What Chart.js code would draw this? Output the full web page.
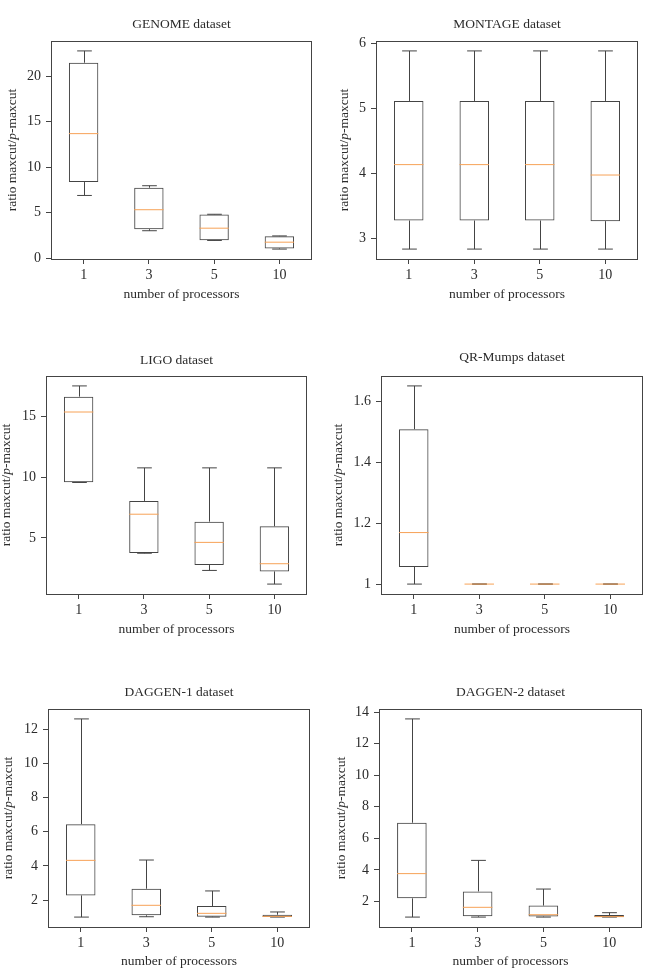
<!DOCTYPE html>
<html>
<head>
<meta charset="utf-8">
<title>maxcut / p-maxcut box plots</title>
<script src="https://cdn.jsdelivr.net/npm/chart.js@4.4.0/dist/chart.umd.min.js"></script>
<style>
    html, body { margin: 0; padding: 0; background: #fff; }
    body { position: relative; width: 649px; height: 974px; overflow: hidden; }
    canvas { position: absolute; display: block; }
</style>
</head>
<body>
<canvas id="genome"></canvas>
<canvas id="montage"></canvas>
<canvas id="ligo"></canvas>
<canvas id="qrmumps"></canvas>
<canvas id="daggen1"></canvas>
<canvas id="daggen2"></canvas>

<script>
// ---- data ----
const processors = ['1', '3', '5', '10'];

// GENOME
const genomeLow  = [6.9, 3.02, 1.95, 1.0];
const genomeQ1   = [8.37, 3.19, 1.98, 1.07];
const genomeMed  = [13.7, 5.33, 3.30, 1.76];
const genomeQ3   = [21.5, 7.75, 4.81, 2.42];
const genomeHigh = [22.8, 7.97, 4.83, 2.45];
const genomeTicks = [0, 5, 10, 15, 20];

// MONTAGE
const montageLow  = [2.83, 2.83, 2.83, 2.83];
const montageQ1   = [3.27, 3.27, 3.27, 3.26];
const montageMed  = [4.13, 4.13, 4.13, 3.97];
const montageQ3   = [5.11, 5.11, 5.11, 5.11];
const montageHigh = [5.88, 5.88, 5.88, 5.88];
const montageTicks = [3, 4, 5, 6];

// LIGO
const ligoLow  = [9.55, 3.75, 2.34, 1.22];
const ligoQ1   = [9.58, 3.77, 2.78, 2.26];
const ligoMed  = [15.33, 6.95, 4.64, 2.89];
const ligoQ3   = [16.59, 8.04, 6.34, 5.96];
const ligoHigh = [17.47, 10.75, 10.75, 10.75];
const ligoTicks = [5, 10, 15];

// QR-Mumps
const qrLow  = [1.0, 1.0, 1.0, 1.0];
const qrQ1   = [1.056, 1.0, 1.0, 1.0];
const qrMed  = [1.169, 1.0, 1.0, 1.0];
const qrQ3   = [1.508, 1.0, 1.0, 1.0];
const qrHigh = [1.65, 1.0, 1.0, 1.0];
const qrTicks = [1, 1.2, 1.4, 1.6];

// DAGGEN-1
const dag1Low  = [1.0, 1.02, 1.0, 1.0];
const dag1Q1   = [2.27, 1.105, 1.02, 1.0];
const dag1Med  = [4.32, 1.69, 1.22, 1.04];
const dag1Q3   = [6.44, 2.66, 1.65, 1.14];
const dag1High = [12.6, 4.34, 2.53, 1.30];
const dag1Ticks = [2, 4, 6, 8, 10, 12];

// DAGGEN-2
const dag2Low  = [1.0, 1.0, 1.0, 1.0];
const dag2Q1   = [2.19, 1.05, 1.03, 1.0];
const dag2Med  = [3.76, 1.62, 1.15, 1.03];
const dag2Q3   = [6.99, 2.63, 1.73, 1.13];
const dag2High = [13.58, 4.60, 2.78, 1.28];
const dag2Ticks = [2, 4, 6, 8, 10, 12, 14];

// ---- look ----
const SERIF = '"Liberation Serif", "DejaVu Serif", serif';
const LABEL_SIZE = 13.5;
const TICK_SIZE = 14;
const LINE_H = LABEL_SIZE * 1.2;
const TEXT_COLOR = '#2b2b2b';
const LINE_COLOR = '#444444';
const MEDIAN_COLOR = '#f7a257';
const TICK_LEN = 5;

// canvas box and target plot area (page pixels) for every panel
const PANELS = [
    { id: 'genome',  title: 'GENOME dataset',    x: 0,   y: 0,   w: 325, h: 310, area: [51, 41, 312, 259],  titleY: 24.3,  yTitleX: 12,    xTitleY: 294,
      low: genomeLow, q1: genomeQ1, med: genomeMed, q3: genomeQ3, high: genomeHigh, ticks: genomeTicks },
    { id: 'montage', title: 'MONTAGE dataset',   x: 325, y: 0,   w: 324, h: 310, area: [376, 41, 638, 259], titleY: 24.3,  yTitleX: 344.3, xTitleY: 294,
      low: montageLow, q1: montageQ1, med: montageMed, q3: montageQ3, high: montageHigh, ticks: montageTicks },
    { id: 'ligo',    title: 'LIGO dataset',      x: 0,   y: 310, w: 325, h: 330, area: [46, 376, 307, 594], titleY: 360,   yTitleX: 6.7,   xTitleY: 629,
      low: ligoLow, q1: ligoQ1, med: ligoMed, q3: ligoQ3, high: ligoHigh, ticks: ligoTicks },
    { id: 'qrmumps', title: 'QR-Mumps dataset',  x: 325, y: 310, w: 324, h: 330, area: [381, 376, 643, 594], titleY: 357.3, yTitleX: 338.3, xTitleY: 629,
      low: qrLow, q1: qrQ1, med: qrMed, q3: qrQ3, high: qrHigh, ticks: qrTicks },
    { id: 'daggen1', title: 'DAGGEN-1 dataset',  x: 0,   y: 640, w: 325, h: 334, area: [48, 709, 310, 927], titleY: 692,   yTitleX: 8.3,   xTitleY: 961.7,
      low: dag1Low, q1: dag1Q1, med: dag1Med, q3: dag1Q3, high: dag1High, ticks: dag1Ticks },
    { id: 'daggen2', title: 'DAGGEN-2 dataset',  x: 325, y: 640, w: 324, h: 334, area: [379, 709, 642, 927], titleY: 692.3, yTitleX: 341,   xTitleY: 961.7,
      low: dag2Low, q1: dag2Q1, med: dag2Med, q3: dag2Q3, high: dag2High, ticks: dag2Ticks }
];

// whiskers, caps, medians and the axes frame, drawn through the chart scales
const boxPlotPlugin = {
    id: 'boxPlot',
    afterDatasetsDraw(chart) {
        const { ctx, chartArea, scales: { x, y } } = chart;
        const panel = chart.options.plugins.boxPlot;
        const meta = chart.getDatasetMeta(0);

        ctx.save();
        ctx.lineWidth = 1;
        processors.forEach((_, i) => {
            const bar = meta.data[i];
            const cx = Math.round(x.getPixelForValue(i)) + 0.5;
            const capHalf = bar.width / 4;
            const yLow = y.getPixelForValue(panel.low[i]);
            const yHigh = y.getPixelForValue(panel.high[i]);
            const yQ1 = y.getPixelForValue(panel.q1[i]);
            const yQ3 = y.getPixelForValue(panel.q3[i]);

            ctx.strokeStyle = LINE_COLOR;
            ctx.beginPath();
            ctx.moveTo(cx, yQ3);
            ctx.lineTo(cx, yHigh);
            ctx.moveTo(cx, yQ1);
            ctx.lineTo(cx, yLow);
            ctx.moveTo(cx - capHalf, yHigh);
            ctx.lineTo(cx + capHalf, yHigh);
            ctx.moveTo(cx - capHalf, yLow);
            ctx.lineTo(cx + capHalf, yLow);
            ctx.stroke();

            const yMed = y.getPixelForValue(panel.med[i]);
            ctx.strokeStyle = MEDIAN_COLOR;
            ctx.beginPath();
            ctx.moveTo(bar.x - bar.width / 2, yMed);
            ctx.lineTo(bar.x + bar.width / 2, yMed);
            ctx.stroke();
        });

        ctx.strokeStyle = LINE_COLOR;
        ctx.strokeRect(chartArea.left + 0.5, chartArea.top + 0.5,
            chartArea.right - chartArea.left - 1, chartArea.bottom - chartArea.top);
        ctx.restore();
    },
    // y title "ratio maxcut/p-maxcut" with the italic p
    afterDraw(chart) {
        const { ctx, chartArea } = chart;
        const panel = chart.options.plugins.boxPlot;
        const upright = `${LABEL_SIZE}px ${SERIF}`;
        const italic = `italic ${LABEL_SIZE}px ${SERIF}`;
        const parts = [['ratio maxcut/', upright], ['p', italic], ['-maxcut', upright]];

        ctx.save();
        ctx.fillStyle = TEXT_COLOR;
        ctx.textBaseline = 'middle';
        ctx.textAlign = 'left';
        const widths = parts.map(([text, f]) => { ctx.font = f; return ctx.measureText(text).width; });
        const total = widths.reduce((a, b) => a + b, 0);
        ctx.translate(panel.yTitleX - panel.x, (chartArea.top + chartArea.bottom) / 2);
        ctx.rotate(-Math.PI / 2);
        let pos = -total / 2;
        parts.forEach(([text, f], i) => {
            ctx.font = f;
            ctx.fillText(text, pos, 0);
            pos += widths[i];
        });
        ctx.restore();
    }
};

function buildPanel(panel) {
    const canvas = document.getElementById(panel.id);
    canvas.width = panel.w;
    canvas.height = panel.h;
    canvas.style.left = panel.x + 'px';
    canvas.style.top = panel.y + 'px';

    const [left, top, right, bottom] = panel.area;
    const labelFont = { family: SERIF, size: LABEL_SIZE, weight: 'normal' };
    const tickFont = { family: SERIF, size: TICK_SIZE, weight: 'normal' };

    // matplotlib-style autoscale: 5% margin around the whisker range
    const dataMin = Math.min(...panel.low);
    const dataMax = Math.max(...panel.high);
    const margin = (dataMax - dataMin) * 0.05;

    return new Chart(canvas.getContext('2d'), {
        type: 'bar',
        data: {
            labels: processors,
            datasets: [{
                data: panel.q1.map((v, i) => [v, panel.q3[i]]),
                backgroundColor: 'rgba(255,255,255,0)',
                borderColor: LINE_COLOR,
                borderWidth: 1,
                borderSkipped: false,
                barPercentage: 0.45,
                categoryPercentage: 1
            }]
        },
        options: {
            responsive: false,
            animation: false,
            events: [],
            layout: {
                padding: { left: 0, top: 0, bottom: 0, right: panel.x + panel.w - right }
            },
            plugins: {
                legend: { display: false },
                tooltip: { enabled: false },
                title: {
                    display: true,
                    fullSize: false,
                    text: panel.title,
                    color: TEXT_COLOR,
                    font: labelFont,
                    padding: {
                        top: panel.titleY - panel.y - LINE_H / 2,
                        bottom: top - panel.titleY - LINE_H / 2
                    }
                },
                boxPlot: panel
            },
            scales: {
                x: {
                    grid: { display: true, drawOnChartArea: false, offset: false, tickLength: TICK_LEN, color: LINE_COLOR },
                    border: { display: false },
                    ticks: { color: TEXT_COLOR, font: tickFont, padding: 3 },
                    title: {
                        display: true,
                        text: 'number of processors',
                        color: TEXT_COLOR,
                        font: labelFont,
                        padding: { top: 0, bottom: panel.y + panel.h - panel.xTitleY - LINE_H / 2 }
                    },
                    afterFit(scale) { scale.height = panel.y + panel.h - bottom; }
                },
                y: {
                    min: dataMin - margin,
                    max: dataMax + margin,
                    grid: { display: true, drawOnChartArea: false, tickLength: TICK_LEN, color: LINE_COLOR },
                    border: { display: false },
                    ticks: {
                        color: TEXT_COLOR,
                        font: tickFont,
                        padding: 5,
                        callback: (value) => String(value)
                    },
                    afterBuildTicks(scale) {
                        scale.ticks = panel.ticks.map(v => ({ value: v }));
                    },
                    afterFit(scale) { scale.width = left - panel.x; }
                }
            }
        },
        plugins: [boxPlotPlugin]
    });
}

PANELS.forEach(buildPanel);
</script>
</body>
</html>
